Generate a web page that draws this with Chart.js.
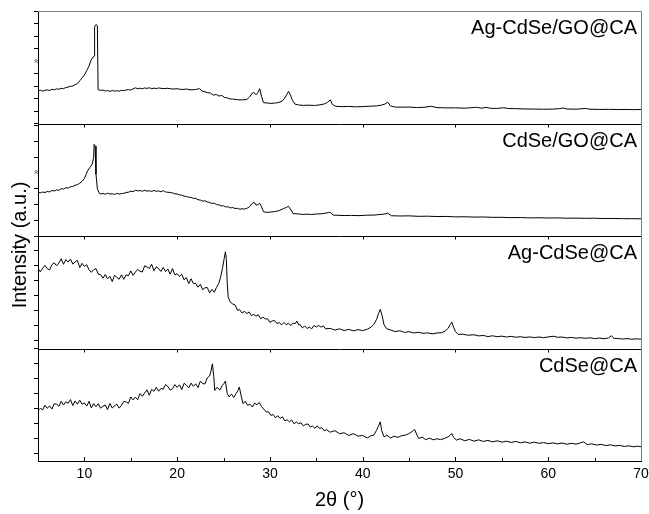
<!DOCTYPE html>
<html lang="en">
<head>
<meta charset="UTF-8" />
<script src="https://cdn.jsdelivr.net/npm/chart.js"></script>
<title>XRD</title>
<style>
  html, body { margin: 0; padding: 0; background: #fff; }
</style>
</head>
<body>
<canvas id="xrd" width="649" height="514"></canvas>
<script>
// XRD patterns, [2theta, intensity]. Each panel has its own 0..100 scale.
var panelNames = ["Ag-CdSe/GO@CA", "CdSe/GO@CA", "Ag-CdSe@CA", "CdSe@CA"];
var xTicks = [10, 20, 30, 40, 50, 60, 70];

var agCdSeGO = [[5,29],[5.25,29.6],[5.5,28.8],[5.75,29.5],[6,29.9],[6.25,29.3],[6.5,30.4],[6.75,30],[7,30.8],[7.25,30.4],[7.5,31.3],[7.75,31],[8,32],[8.25,32.4],[8.5,33],[8.75,33.3],[9,34.5],[9.25,35.5],[9.5,38],[9.75,40.5],[10,43],[10.25,47],[10.5,51],[10.7,56],[10.85,58],[11.05,60],[11.1,86],[11.25,88],[11.4,87],[11.48,30],[11.75,29.4],[12,29.8],[12.25,28.9],[12.5,29.2],[12.75,28.6],[13,29.3],[13.25,28.8],[13.5,29.1],[13.75,28.7],[14,29.5],[14.25,29.2],[14.5,29.8],[14.75,30.1],[15,29.7],[15.25,30.8],[15.5,31.7],[15.75,30.9],[16,31.4],[16.25,30.8],[16.5,31.6],[16.75,31.2],[17,31.8],[17.25,30.9],[17.5,31.5],[17.75,31],[18,31.6],[18.5,31],[19,31.3],[19.5,30.6],[20,30.9],[20.5,30.2],[21,30.6],[21.5,29.9],[22,30.2],[22.4,31],[22.7,28.8],[23,28.2],[23.3,27.4],[23.6,27],[23.9,25.2],[24.2,25.8],[24.5,24.4],[24.8,25],[25.1,23.2],[25.4,22.8],[25.7,21.8],[26,21.7],[26.5,21.1],[27,21],[27.5,21.3],[27.8,23.5],[28.1,27],[28.3,27.5],[28.5,25.5],[28.7,27.5],[28.9,31],[29.1,24],[29.3,18.6],[29.7,18.2],[30.1,17.9],[30.5,18.1],[30.9,18.6],[31.3,19.8],[31.6,22.5],[31.8,25.5],[32,28.5],[32.2,25.5],[32.4,21],[32.7,17.2],[33.1,16.5],[33.6,16.1],[34.2,16.3],[34.8,16],[35.4,16.6],[35.9,17.5],[36.2,18.8],[36.5,21],[36.75,16.8],[37.1,15.3],[37.8,15],[38.5,15.2],[39.2,14.8],[40,15],[40.8,15.4],[41.5,15.6],[42,16.3],[42.4,17.3],[42.7,19],[43,15.6],[43.5,14.6],[44.2,14.5],[45,14.6],[45.8,14.2],[46.6,14.4],[47.4,15.3],[48,14.1],[49,13.9],[50,13.9],[51,13.6],[51.8,14.1],[52.3,14.4],[52.8,13.6],[53.3,14.3],[53.8,13.5],[54.5,13.4],[55.2,14],[55.7,13.3],[56.5,13.2],[57.5,12.9],[58.5,12.8],[59.5,12.7],[60.5,12.8],[61.2,13.2],[61.6,13.8],[62,12.9],[63,12.7],[64,13.4],[64.5,12.7],[65.5,12.5],[66.5,12.6],[67.5,12.4],[68.5,12.5],[69.3,12.3],[70,12.5]];

var cdSeGO = [[5,39],[5.25,38.4],[5.5,39.1],[5.75,38.6],[6,39.6],[6.25,39.2],[6.5,40.4],[6.75,40],[7,41],[7.25,40.6],[7.5,42],[7.75,41.8],[8,42.9],[8.25,42.6],[8.5,43.8],[8.75,44],[9,45.2],[9.25,45.6],[9.5,47],[9.75,48.6],[10,51],[10.2,55],[10.35,58],[10.6,61],[10.85,64],[11,70],[11.05,81.5],[11.15,80],[11.25,55],[11.4,42],[11.6,38],[11.8,37.2],[12,37.9],[12.25,37.1],[12.5,38],[12.75,37.3],[13,37.6],[13.25,36.9],[13.5,37.9],[13.75,37.2],[14,37.8],[14.25,37.9],[14.5,38.7],[14.75,38.9],[15,39.8],[15.25,39.4],[15.5,40.7],[15.75,40.1],[16,40.4],[16.25,39.8],[16.5,40.6],[16.75,39.9],[17,40.2],[17.25,39.6],[17.5,40.5],[17.75,39.7],[18,40.1],[18.25,39.3],[18.5,40.4],[18.75,39.1],[19,38.9],[19.25,38.6],[19.5,38.3],[19.75,37.5],[20,37.4],[20.25,36.6],[20.5,36.3],[20.75,35.4],[21,35.2],[21.25,34.5],[21.5,34.3],[21.75,33.4],[22,33.5],[22.25,32.2],[22.5,32],[22.75,31],[23,31.3],[23.25,30.2],[23.5,29.8],[23.75,28.9],[24,29.2],[24.25,27.9],[24.5,27.8],[24.75,26.7],[25,26.9],[25.25,25.8],[25.5,26],[25.75,25],[26,25.3],[26.25,24.4],[26.5,24.6],[26.75,23.8],[27,24.2],[27.25,23.9],[27.5,24.5],[27.8,26],[28.1,29],[28.3,30],[28.5,27.5],[28.7,28],[28.9,29],[29.1,26],[29.3,21.5],[29.7,21],[30.2,21.4],[30.6,21.8],[31,22.6],[31.5,24.5],[31.8,25.5],[32,26.5],[32.2,24],[32.5,20],[33,19.6],[33.5,19.2],[34,19.4],[34.5,19.1],[35,19.6],[35.5,19.7],[35.9,20.2],[36.3,20.8],[36.5,21.2],[36.8,18.6],[37.3,18.4],[38,18.2],[38.8,18.3],[39.6,18.1],[40.4,18.5],[41.2,18.6],[42,19.2],[42.4,19.6],[42.7,20.3],[43.1,18],[44,17.8],[45,17.9],[46,17.5],[47,17.6],[48,17.3],[49,17.4],[50,17],[51,17.1],[52,16.8],[53,16.9],[54,16.6],[55,16.6],[56,16.3],[57,16.4],[58,16.1],[59,16.2],[60,16],[61,16.1],[62,15.8],[63,15.9],[64,15.7],[65,15.8],[66,15.5],[67,15.6],[68,15.4],[69,15.4],[70,15.3]];

var agCdSe = [[5,71.1],[5.25,68.2],[5.5,71.3],[5.75,73.9],[6,71],[6.25,69.8],[6.5,74.5],[6.75,76.2],[7,73.5],[7.25,75.9],[7.5,79.8],[7.75,74.9],[8,79],[8.25,76.8],[8.5,79.5],[8.75,75],[9,77],[9.25,78.3],[9.5,72],[9.75,75.7],[10,73],[10.25,74.5],[10.5,70],[10.75,67.7],[11,70],[11.25,71],[11.5,66],[11.75,65.7],[12,62.5],[12.25,65.7],[12.5,62],[12.75,64.2],[13,59.5],[13.25,65.1],[13.5,63.3],[13.75,61.6],[14,65.5],[14.25,61.5],[14.5,65.5],[14.75,64.7],[15,69],[15.25,65],[15.5,68],[15.75,70.3],[16,68.6],[16.25,68],[16.5,73.5],[16.75,72.5],[17,71.1],[17.25,74.9],[17.5,69.2],[17.75,72.6],[18,71],[18.25,68.5],[18.5,72],[18.75,68.5],[19,70.5],[19.25,66],[19.5,71],[19.75,65.5],[20,66.5],[20.25,64],[20.5,66],[20.75,61],[21,63],[21.25,57.7],[21.5,62],[21.75,57.7],[22,58],[22.25,54.5],[22.5,57],[22.75,52.2],[23,54],[23.25,54.2],[23.5,49.5],[23.75,52.5],[24,50],[24.25,54.5],[24.5,58],[24.7,64],[24.9,72],[25.05,79],[25.2,86],[25.3,80],[25.4,58],[25.5,46],[25.7,41.5],[26,39.5],[26.25,38.7],[26.5,34],[26.75,34.5],[27,31.5],[27.25,33.2],[27.5,31],[27.75,32.5],[28,29.3],[28.25,30.3],[28.5,28.7],[28.75,30.1],[29,26.5],[29.25,27.9],[29.5,26.2],[29.75,26.5],[30,23.2],[30.25,24.5],[30.5,24.9],[30.75,22.2],[31,23],[31.25,21],[31.5,23.1],[31.75,21.2],[32,22.4],[32.25,20.6],[32.5,22.4],[32.75,22.3],[32.9,24.4],[33.1,21],[33.25,21.3],[33.5,18.3],[33.75,20],[34,17.8],[34.25,19],[34.5,17.5],[34.75,20.5],[35,19.1],[35.25,20.5],[35.5,19],[35.75,20.1],[36,17.5],[36.5,17.9],[37,16.4],[37.5,17.5],[38,16],[38.5,17],[39,15.7],[39.5,16.8],[40,15.9],[40.5,17.2],[40.9,19],[41.2,21.5],[41.5,26],[41.7,31],[41.9,34.8],[42.1,29],[42.3,21],[42.6,17.5],[43,16.5],[43.5,15],[44,15.8],[44.5,14.3],[45,15],[45.5,13.8],[46,14.5],[46.5,13.5],[47,13.9],[47.5,13],[48,13.8],[48.5,14],[48.9,15.5],[49.2,18],[49.45,21.5],[49.6,23.5],[49.8,19],[50,15],[50.3,12.5],[50.8,12.8],[51.3,11.8],[52,12.2],[52.5,11.2],[53,11.6],[53.5,10.6],[54,11.3],[54.5,10.5],[55,11],[55.5,10.2],[56,10.8],[56.5,10],[57,10.5],[57.5,9.8],[58,10.3],[58.5,9.7],[59,10.2],[59.5,9.6],[60,10.3],[60.6,10.9],[61,10],[61.5,10.2],[62,9.4],[62.5,9.9],[63,9.2],[63.5,9.6],[64,9.1],[64.5,9.5],[65,8.8],[65.5,9.3],[66,8.7],[66.5,9.4],[66.8,11.3],[67.1,9],[67.5,8.9],[68,8.4],[68.5,8.8],[69,8.2],[69.5,8.6],[70,8.3]];

var cdSe = [[5,44.7],[5.25,46.8],[5.5,45.5],[5.75,49.5],[6,46.8],[6.25,49],[6.5,46.2],[6.75,50.9],[7,50.5],[7.25,48.6],[7.5,53],[7.75,49.8],[8,52.6],[8.25,51.4],[8.5,54.6],[8.75,49.3],[9,53.4],[9.25,50.5],[9.5,54],[9.75,50.5],[10,51.5],[10.25,48.9],[10.5,53],[10.75,47.2],[11,51],[11.25,48.3],[11.5,51],[11.75,46.9],[12,48.8],[12.25,49.7],[12.5,45.7],[12.75,51.2],[13,47.1],[13.25,49],[13.5,50.5],[13.75,47],[14,49.5],[14.25,53],[14.5,52.5],[14.75,51.2],[15,57],[15.25,54.3],[15.5,56.8],[15.75,54.5],[16,60],[16.25,57.5],[16.5,60.5],[16.75,63.2],[17,58.4],[17.25,63.7],[17.5,62],[17.75,65.5],[18,62],[18.25,64.5],[18.5,63.8],[18.75,68],[19,66.2],[19.25,63],[19.5,64.2],[19.75,67.9],[20,65.5],[20.25,67.7],[20.5,63.4],[20.75,69.1],[21,67.3],[21.25,65],[21.5,69.2],[21.75,66.4],[22,68.6],[22.25,65.3],[22.5,71],[22.75,68.8],[23,68.5],[23.25,74],[23.5,75.6],[23.65,80],[23.8,86.4],[23.95,75],[24.05,62.8],[24.3,65.5],[24.6,63],[24.85,67],[25.05,69],[25.2,71],[25.4,60],[25.6,57],[25.85,59.5],[26.1,56.5],[26.35,60],[26.55,62.5],[26.7,65.8],[26.9,58],[27.1,51],[27.35,53],[27.6,49.5],[27.85,50.5],[28.1,48],[28.35,51.5],[28.6,50],[28.85,52],[29.1,48.5],[29.35,46],[29.6,43.6],[29.85,43.7],[30.1,40.5],[30.35,41.3],[30.6,38.5],[30.85,40.2],[31.1,37.9],[31.35,39.3],[31.6,35.8],[31.85,36.6],[32.1,34.9],[32.35,36.5],[32.6,33.1],[32.85,34.7],[33.1,33.2],[33.35,34],[33.6,31.2],[33.85,32.5],[34.1,33],[34.35,30.2],[34.6,31],[34.85,29.1],[35.1,31.3],[35.35,28.9],[35.6,29.6],[35.85,26.9],[36.1,27.8],[36.5,25.6],[37,27],[37.5,24.3],[38,25.1],[38.5,22.7],[39,24.3],[39.5,22.1],[40,22.7],[40.5,20.5],[40.9,22.5],[41.2,23],[41.5,27.4],[41.7,31],[41.9,34.8],[42.05,27],[42.3,21.5],[42.6,23],[43,20.5],[43.4,22],[43.8,21],[44.2,22.5],[44.6,23],[44.9,24],[45.2,25.5],[45.45,27],[45.6,28],[45.85,23],[46.05,20],[46.4,21.2],[46.8,19],[47.2,20.3],[47.6,18.8],[48,19.8],[48.4,19],[48.8,20],[49.2,21.5],[49.45,23],[49.6,24.5],[49.8,21],[50.1,18.6],[50.5,19.8],[51,18],[51.5,19.2],[52,17.6],[52.5,18.8],[53,17.4],[53.5,18.3],[54,17],[54.5,18],[55,16.8],[55.5,17.6],[56,16.5],[56.5,17.4],[57,16.2],[57.5,17],[58,15.8],[58.5,16.8],[59,15.7],[59.5,16.4],[60,15.4],[60.5,16.1],[61,15.2],[61.5,16],[62,14.9],[62.5,15.7],[63,15],[63.5,16.2],[63.8,17],[64.2,14.6],[64.7,15.3],[65.2,14.2],[65.7,14.8],[66.2,13.7],[66.7,14.4],[67.2,13.4],[67.7,13.9],[68.2,12.9],[68.7,13.5],[69.2,12.6],[69.6,13.2],[70,12.7]];

var series = [agCdSeGO, cdSeGO, agCdSe, cdSe];

// left-axis minor ticks (no labels) - start value, step, count per panel
var yTickFrom = [0, 0, 100, 100];
var yTickStep = [11.1, 14, -13.3, -13.3];
var yTickCount = [10, 8, 8, 8];
var yBreakAt = [5, 4, -1, -1]; // tick replaced by the axis-break mark

var FONT = "'Liberation Sans', Arial, sans-serif";
Chart.defaults.font.family = FONT;
Chart.defaults.color = '#000';

var scales = {
  x: {
    type: 'linear',
    min: 5,
    max: 70,
    afterBuildTicks: function (s) {
      s.ticks = xTicks.map(function (v) { return { value: v }; });
    },
    afterFit: function (s) {
      s.height = 53;
      // let the "70" label hang over the right edge like the original
      s.paddingLeft = 0;
      s.paddingRight = 0;
    },
    grid: { display: false, drawTicks: false },
    border: { display: true, color: '#000', width: 1 },
    ticks: { autoSkip: false, maxRotation: 0, padding: 5, color: '#000', font: { size: 14 } },
    title: { display: true, text: '2θ (°)', color: '#000', font: { size: 20 }, padding: { top: 0, bottom: 2 } }
  }
};

panelNames.forEach(function (name, i) {
  scales['y' + i] = {
    type: 'linear',
    position: 'left',
    stack: 'xrd',
    stackWeight: 1,
    weight: 4 - i,
    min: 0,
    max: 100,
    afterBuildTicks: function (s) {
      var t = [];
      for (var k = 0; k < yTickCount[i]; k++) {
        if (k !== yBreakAt[i]) t.push({ value: yTickFrom[i] + k * yTickStep[i] });
      }
      s.ticks = t;
    },
    afterFit: function (s) { s.width = 38; },
    grid: { drawOnChartArea: false, drawTicks: true, tickLength: 4, color: '#000' },
    border: { display: true, color: '#000', width: 1 },
    ticks: { display: false }
  };
});

var framePlugin = {
  id: 'frame',
  afterDraw: function (chart) {
    var ctx = chart.ctx, a = chart.chartArea, xs = chart.scales.x;
    var px = function (v) { return Math.round(v) + 0.5; };
    ctx.save();
    ctx.lineWidth = 1;

    // grey top and right edges
    ctx.strokeStyle = '#7a7a7a';
    ctx.beginPath();
    ctx.moveTo(a.left, px(a.top));
    ctx.lineTo(px(a.right), px(a.top));
    ctx.lineTo(px(a.right), a.bottom);
    ctx.stroke();

    ctx.strokeStyle = '#000';
    ctx.fillStyle = '#000';
    panelNames.forEach(function (name, i) {
      var ys = chart.scales['y' + i];
      if (i > 0) {
        // panel separator with inward ticks
        var y = px(ys.top);
        ctx.beginPath();
        ctx.moveTo(a.left, y);
        ctx.lineTo(a.right, y);
        xTicks.forEach(function (v) {
          if (v >= 70) return;
          var x = px(xs.getPixelForValue(v));
          ctx.moveTo(x, y);
          ctx.lineTo(x, y + 3);
        });
        ctx.stroke();
      }
      ctx.font = '20px ' + FONT;
      ctx.textAlign = 'right';
      ctx.textBaseline = 'alphabetic';
      ctx.fillText(name, a.right - 4, ys.top + 23);

      if (yBreakAt[i] >= 0) {
        var by = ys.getPixelForValue(yTickFrom[i] + yBreakAt[i] * yTickStep[i]);
        ctx.font = '9px ' + FONT;
        ctx.textAlign = 'center';
        ctx.textBaseline = 'middle';
        ctx.fillText('≈', a.left - 1, by);
      }
    });

    // ticks along the bottom edge, pointing up
    ctx.beginPath();
    for (var v = 10; v < 70; v += 5) {
      var x = px(xs.getPixelForValue(v));
      ctx.moveTo(x, a.bottom);
      ctx.lineTo(x, a.bottom - (v % 10 === 0 ? 4 : 3));
    }
    ctx.stroke();

    // y axis title
    ctx.translate(20, 245);
    ctx.rotate(-Math.PI / 2);
    ctx.font = '20px ' + FONT;
    ctx.textAlign = 'center';
    ctx.textBaseline = 'middle';
    ctx.fillText('Intensity (a.u.)', 0, 0);
    ctx.restore();
  }
};

new Chart(document.getElementById('xrd'), {
  type: 'line',
  data: {
    datasets: series.map(function (pts, i) {
      return {
        label: panelNames[i],
        data: pts.map(function (p) { return { x: p[0], y: p[1] }; }),
        yAxisID: 'y' + i,
        borderColor: '#000',
        borderWidth: 1,
        pointRadius: 0,
        tension: 0
      };
    })
  },
  options: {
    responsive: false,
    animation: false,
    layout: { padding: { top: 11, right: 8, bottom: 0, left: 0 } },
    plugins: { legend: { display: false }, tooltip: { enabled: false } },
    scales: scales
  },
  plugins: [framePlugin]
});
</script>
</body>
</html>
